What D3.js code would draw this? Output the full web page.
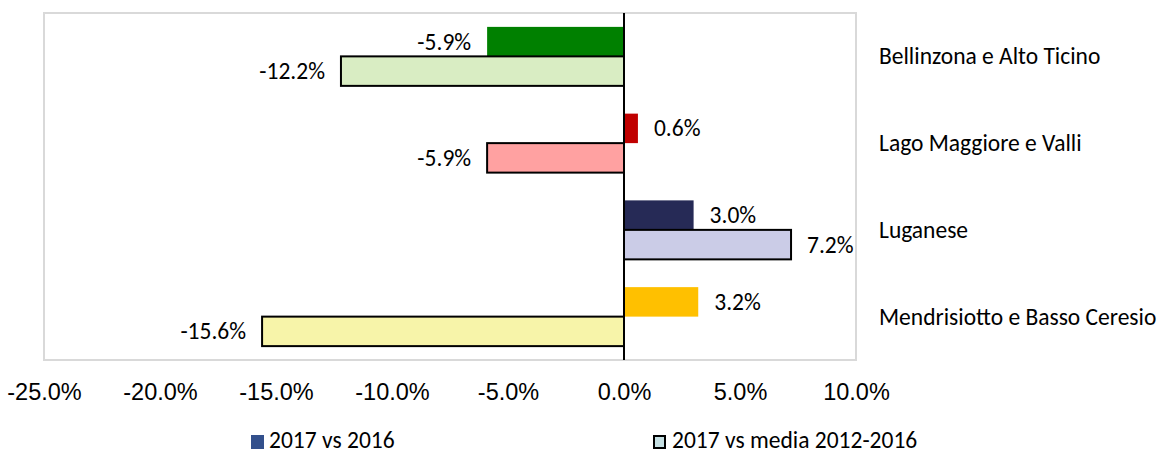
<!DOCTYPE html>
<html>
<head>
<meta charset="utf-8">
<script src="https://cdn.jsdelivr.net/npm/d3@7"></script>
<style>
  body { margin: 0; background: #fff; }
  svg { display: block; font-family: Carlito, Calibri, Lato, sans-serif; }
</style>
</head>
<body>
<svg id="chart"></svg>
<script>
const categories = ["Bellinzona e Alto Ticino", "Lago Maggiore e Valli", "Luganese", "Mendrisiotto e Basso Ceresio"];
const seriesNames = ["2017 vs 2016", "2017 vs media 2012-2016"];
const vs2016 = [-5.9, 0.6, 3.0, 3.2];
const vsMedia = [-12.2, -5.9, 7.2, -15.6];
const darkColors = ["#008000", "#c00000", "#262a56", "#ffc000"];
const lightColors = ["#d9edc3", "#ffa1a1", "#cbcce7", "#f7f4a9"];
const legendColors = ["#33508c", "#c5dfe2"];
const xTicks = [-25, -20, -15, -10, -5, 0, 5, 10];

const width = 1165, height = 454;
const plot = { left: 44, right: 856, top: 13, bottom: 360 };
const fontSize = 23.5;

// plain hyphen for negatives, like the original
const pct = d3.formatLocale({ decimal: ".", thousands: ",", grouping: [3], currency: ["", ""], minus: "-" })
    .format(".1f");

const svg = d3.select("#chart")
    .attr("width", width)
    .attr("height", height);

const x = d3.scaleLinear()
    .domain([-25, 10])
    .range([plot.left, plot.right]);

const y = d3.scaleBand()
    .domain(categories)
    .range([plot.top, plot.bottom])
    .paddingInner(0.32)
    .paddingOuter(0.16);

const ySub = d3.scaleBand()
    .domain([0, 1])
    .range([0, y.bandwidth()]);

// plot frame
svg.append("rect")
    .attr("x", plot.left)
    .attr("y", plot.top)
    .attr("width", plot.right - plot.left)
    .attr("height", plot.bottom - plot.top)
    .attr("fill", "none")
    .attr("stroke", "#d9d9d9")
    .attr("stroke-width", 2);

const rows = categories.map((c, i) => ({
    name: c,
    values: [
        { s: 0, v: vs2016[i], fill: darkColors[i], stroke: "none" },
        { s: 1, v: vsMedia[i], fill: lightColors[i], stroke: "#000" }
    ]
}));

const group = svg.selectAll(".cat")
    .data(rows)
    .enter()
    .append("g")
    .attr("class", "cat")
    .attr("transform", (d) => `translate(0, ${y(d.name)})`);

group.selectAll("rect")
    .data((d) => d.values)
    .enter()
    .append("rect")
    .attr("x", (d) => Math.min(x(0), x(d.v)))
    .attr("y", (d) => ySub(d.s))
    .attr("width", (d) => Math.abs(x(d.v) - x(0)))
    .attr("height", ySub.bandwidth())
    .attr("fill", (d) => d.fill)
    .attr("stroke", (d) => d.stroke)
    .attr("stroke-width", 2);

group.selectAll(".label")
    .data((d) => d.values)
    .enter()
    .append("text")
    .attr("class", "label")
    .attr("x", (d) => d.v < 0 ? x(d.v) - 16 : x(d.v) + 16)
    .attr("y", (d) => ySub(d.s) + ySub.bandwidth() / 2)
    .attr("text-anchor", (d) => d.v < 0 ? "end" : "start")
    .attr("dominant-baseline", "central")
    .attr("font-size", fontSize)
    .attr("fill", "#000")
    .text((d) => pct(d.v) + "%");

// zero line
svg.append("line")
    .attr("x1", x(0))
    .attr("x2", x(0))
    .attr("y1", plot.top)
    .attr("y2", plot.bottom)
    .attr("stroke", "#000")
    .attr("stroke-width", 2);

// category labels on the right
svg.selectAll(".cat-label")
    .data(categories)
    .enter()
    .append("text")
    .attr("class", "cat-label")
    .attr("x", 879)
    .attr("y", (d) => y(d) + y.bandwidth() / 2)
    .attr("dominant-baseline", "central")
    .attr("font-size", fontSize)
    .attr("fill", "#000")
    .text((d) => d);

// x axis tick labels
const xAxis = svg.append("g")
    .attr("transform", `translate(0, ${plot.bottom})`)
    .call(d3.axisBottom(x).tickValues(xTicks).tickSize(0)
        .tickFormat((d) => pct(d) + "%"));
xAxis.select(".domain").remove();
xAxis.selectAll("text")
    .attr("y", 40)
    .attr("dy", null)
    .attr("font-size", fontSize)
    .attr("font-family", null)
    .attr("fill", "#000");

// legend
const legendX = [251, 653];
const legend = svg.selectAll(".legend")
    .data(seriesNames)
    .enter()
    .append("g")
    .attr("class", "legend")
    .attr("transform", (d, i) => `translate(${legendX[i]}, 442)`);

legend.append("rect")
    .attr("x", (d, i) => i === 0 ? 0 : 1)
    .attr("y", (d, i) => i === 0 ? -7 : -6)
    .attr("width", (d, i) => i === 0 ? 13 : 11)
    .attr("height", (d, i) => i === 0 ? 14 : 12)
    .attr("fill", (d, i) => legendColors[i])
    .attr("stroke", (d, i) => i === 0 ? "none" : "#000")
    .attr("stroke-width", 2);

legend.append("text")
    .attr("x", (d, i) => i === 0 ? 18 : 19)
    .attr("y", 6)
    .attr("font-size", fontSize)
    .attr("fill", "#000")
    .text((d) => d);
</script>
</body>
</html>
